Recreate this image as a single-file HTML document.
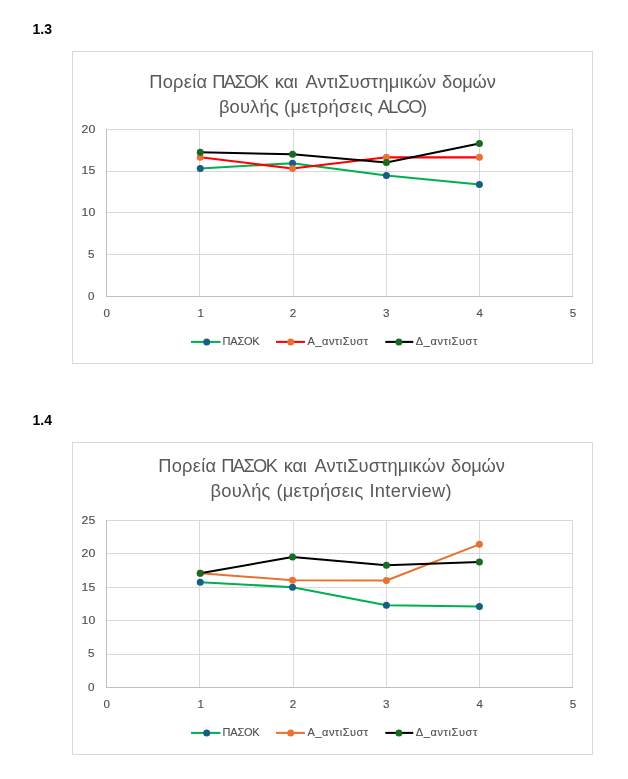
<!DOCTYPE html>
<html><head><meta charset="utf-8"><title>Charts</title>
<style>
html,body{margin:0;padding:0;background:#fff;width:628px;height:779px;overflow:hidden}
svg{display:block;will-change:transform}
text{font-family:"Liberation Sans",sans-serif}
.ax{font-size:11.6px;fill:#505050;stroke:#505050;stroke-width:0.15px}
.ti{font-size:18.3px;fill:#595959}
.lg{font-size:11px;fill:#505050;stroke:#505050;stroke-width:0.12px}
.hd{font-size:14px;font-weight:bold;fill:#000}
</style></head>
<body>
<svg width="628" height="779" viewBox="0 0 628 779">
<rect width="628" height="779" fill="#fff"/>
<text x="32.5" y="34" class="hd">1.3</text>
<text x="32.5" y="425" class="hd">1.4</text>
<rect x="72.5" y="51.5" width="520" height="312" fill="#fff" stroke="#d9d9d9" stroke-width="1"/>
<rect x="106" y="129" width="467" height="1" fill="#d9d9d9"/>
<rect x="106" y="171" width="467" height="1" fill="#d9d9d9"/>
<rect x="106" y="212" width="467" height="1" fill="#d9d9d9"/>
<rect x="106" y="254" width="467" height="1" fill="#d9d9d9"/>
<rect x="199" y="129" width="1" height="167" fill="#d9d9d9"/>
<rect x="293" y="129" width="1" height="167" fill="#d9d9d9"/>
<rect x="386" y="129" width="1" height="167" fill="#d9d9d9"/>
<rect x="479" y="129" width="1" height="167" fill="#d9d9d9"/>
<rect x="572" y="129" width="1" height="167" fill="#d9d9d9"/>
<rect x="106" y="129" width="1" height="168" fill="#bfbfbf"/>
<rect x="106" y="296" width="467" height="1" fill="#bfbfbf"/>
<text x="95.3" y="132.70" text-anchor="end" class="ax" textLength="13.7" lengthAdjust="spacingAndGlyphs">20</text>
<text x="95.3" y="174.45" text-anchor="end" class="ax" textLength="13.7" lengthAdjust="spacingAndGlyphs">15</text>
<text x="95.3" y="216.20" text-anchor="end" class="ax" textLength="13.7" lengthAdjust="spacingAndGlyphs">10</text>
<text x="94.5" y="257.95" text-anchor="end" class="ax">5</text>
<text x="94.5" y="299.70" text-anchor="end" class="ax">0</text>
<text x="106.8" y="317" text-anchor="middle" class="ax">0</text>
<text x="200.8" y="317" text-anchor="middle" class="ax">1</text>
<text x="293.0" y="317" text-anchor="middle" class="ax">2</text>
<text x="386.2" y="317" text-anchor="middle" class="ax">3</text>
<text x="479.7" y="317" text-anchor="middle" class="ax">4</text>
<text x="573.0" y="317" text-anchor="middle" class="ax">5</text>
<text x="149.20" y="88" class="ti" textLength="57.95" lengthAdjust="spacing">Πορεία</text>
<text x="212.30" y="88" class="ti" textLength="56.58" lengthAdjust="spacing">ΠΑΣΟΚ</text>
<text x="274.80" y="88" class="ti" textLength="22.94" lengthAdjust="spacing">και</text>
<text x="305.40" y="88" class="ti" textLength="130.77" lengthAdjust="spacing">ΑντιΣυστημικών</text>
<text x="442.10" y="88" class="ti" textLength="53.77" lengthAdjust="spacing">δομών</text>
<text x="218.90" y="113" class="ti" textLength="59.69" lengthAdjust="spacing">βουλής</text>
<text x="284.00" y="113" class="ti" textLength="88.69" lengthAdjust="spacing">(μετρήσεις</text>
<text x="377.80" y="113" class="ti" textLength="49.22" lengthAdjust="spacing">ALCO)</text>
<polyline points="200.25,168.4 292.5,163.2 386.4,175.4 479.4,184.6" fill="none" stroke="#00b050" stroke-width="2.05" stroke-linejoin="round" stroke-linecap="round"/>
<circle cx="200.25" cy="168.4" r="3.5" fill="#156082"/>
<circle cx="292.5" cy="163.2" r="3.5" fill="#156082"/>
<circle cx="386.4" cy="175.4" r="3.5" fill="#156082"/>
<circle cx="479.4" cy="184.6" r="3.5" fill="#156082"/>
<polyline points="200.25,157.2 292.5,168.6 386.4,157.15 479.4,157.35" fill="none" stroke="#ff0000" stroke-width="2.05" stroke-linejoin="round" stroke-linecap="round"/>
<circle cx="200.25" cy="157.2" r="3.5" fill="#e97132"/>
<circle cx="292.5" cy="168.6" r="3.5" fill="#e97132"/>
<circle cx="386.4" cy="157.15" r="3.5" fill="#e97132"/>
<circle cx="479.4" cy="157.35" r="3.5" fill="#e97132"/>
<polyline points="200.25,152.3 292.5,154.3 386.4,162.6 479.4,143.5" fill="none" stroke="#000000" stroke-width="2.05" stroke-linejoin="round" stroke-linecap="round"/>
<circle cx="200.25" cy="152.3" r="3.5" fill="#196b24"/>
<circle cx="292.5" cy="154.3" r="3.5" fill="#196b24"/>
<circle cx="386.4" cy="162.6" r="3.5" fill="#196b24"/>
<circle cx="479.4" cy="143.5" r="3.5" fill="#196b24"/>
<line x1="191" y1="341.9" x2="220.5" y2="341.9" stroke="#00b050" stroke-width="2.05"/>
<circle cx="206.7" cy="341.9" r="3.5" fill="#156082"/>
<text x="222.6" y="345" class="lg" textLength="37" lengthAdjust="spacing">ΠΑΣΟΚ</text>
<line x1="276" y1="341.9" x2="305" y2="341.9" stroke="#ff0000" stroke-width="2.05"/>
<circle cx="290.7" cy="341.9" r="3.5" fill="#e97132"/>
<text x="307.6" y="345" class="lg" textLength="60.5" lengthAdjust="spacing">Α_αντιΣυστ</text>
<line x1="385.3" y1="341.9" x2="413.3" y2="341.9" stroke="#000000" stroke-width="2.05"/>
<circle cx="398.9" cy="341.9" r="3.5" fill="#196b24"/>
<text x="415.8" y="345" class="lg" textLength="61.5" lengthAdjust="spacing">Δ_αντιΣυστ</text>
<rect x="72.5" y="442.5" width="520" height="312" fill="#fff" stroke="#d9d9d9" stroke-width="1"/>
<rect x="106" y="520" width="467" height="1" fill="#d9d9d9"/>
<rect x="106" y="553" width="467" height="1" fill="#d9d9d9"/>
<rect x="106" y="587" width="467" height="1" fill="#d9d9d9"/>
<rect x="106" y="620" width="467" height="1" fill="#d9d9d9"/>
<rect x="106" y="654" width="467" height="1" fill="#d9d9d9"/>
<rect x="199" y="520" width="1" height="167" fill="#d9d9d9"/>
<rect x="293" y="520" width="1" height="167" fill="#d9d9d9"/>
<rect x="386" y="520" width="1" height="167" fill="#d9d9d9"/>
<rect x="479" y="520" width="1" height="167" fill="#d9d9d9"/>
<rect x="572" y="520" width="1" height="167" fill="#d9d9d9"/>
<rect x="106" y="520" width="1" height="168" fill="#bfbfbf"/>
<rect x="106" y="687" width="467" height="1" fill="#bfbfbf"/>
<text x="95.3" y="523.70" text-anchor="end" class="ax" textLength="13.7" lengthAdjust="spacingAndGlyphs">25</text>
<text x="95.3" y="557.10" text-anchor="end" class="ax" textLength="13.7" lengthAdjust="spacingAndGlyphs">20</text>
<text x="95.3" y="590.50" text-anchor="end" class="ax" textLength="13.7" lengthAdjust="spacingAndGlyphs">15</text>
<text x="95.3" y="623.90" text-anchor="end" class="ax" textLength="13.7" lengthAdjust="spacingAndGlyphs">10</text>
<text x="94.5" y="657.30" text-anchor="end" class="ax">5</text>
<text x="94.5" y="690.70" text-anchor="end" class="ax">0</text>
<text x="106.8" y="708" text-anchor="middle" class="ax">0</text>
<text x="200.8" y="708" text-anchor="middle" class="ax">1</text>
<text x="293.0" y="708" text-anchor="middle" class="ax">2</text>
<text x="386.2" y="708" text-anchor="middle" class="ax">3</text>
<text x="479.7" y="708" text-anchor="middle" class="ax">4</text>
<text x="573.0" y="708" text-anchor="middle" class="ax">5</text>
<text x="158.20" y="472" class="ti" textLength="57.95" lengthAdjust="spacing">Πορεία</text>
<text x="221.30" y="472" class="ti" textLength="56.58" lengthAdjust="spacing">ΠΑΣΟΚ</text>
<text x="283.80" y="472" class="ti" textLength="22.94" lengthAdjust="spacing">και</text>
<text x="314.40" y="472" class="ti" textLength="130.77" lengthAdjust="spacing">ΑντιΣυστημικών</text>
<text x="451.10" y="472" class="ti" textLength="53.77" lengthAdjust="spacing">δομών</text>
<text x="210.60" y="497" class="ti" textLength="59.69" lengthAdjust="spacing">βουλής</text>
<text x="276.50" y="497" class="ti" textLength="86.69" lengthAdjust="spacing">(μετρήσεις</text>
<text x="369.40" y="497" class="ti" textLength="82.22" lengthAdjust="spacing">Interview)</text>
<polyline points="200.25,582.2 292.5,587.2 386.4,605.2 479.4,606.4" fill="none" stroke="#00b050" stroke-width="2.05" stroke-linejoin="round" stroke-linecap="round"/>
<circle cx="200.25" cy="582.2" r="3.5" fill="#156082"/>
<circle cx="292.5" cy="587.2" r="3.5" fill="#156082"/>
<circle cx="386.4" cy="605.2" r="3.5" fill="#156082"/>
<circle cx="479.4" cy="606.4" r="3.5" fill="#156082"/>
<polyline points="200.25,573.2 292.5,580.3 386.4,580.5 479.4,544.35" fill="none" stroke="#e97132" stroke-width="2.05" stroke-linejoin="round" stroke-linecap="round"/>
<circle cx="200.25" cy="573.2" r="3.5" fill="#e97132"/>
<circle cx="292.5" cy="580.3" r="3.5" fill="#e97132"/>
<circle cx="386.4" cy="580.5" r="3.5" fill="#e97132"/>
<circle cx="479.4" cy="544.35" r="3.5" fill="#e97132"/>
<polyline points="200.25,573.2 292.5,557.1 386.4,565.2 479.4,562.1" fill="none" stroke="#000000" stroke-width="2.05" stroke-linejoin="round" stroke-linecap="round"/>
<circle cx="200.25" cy="573.2" r="3.5" fill="#196b24"/>
<circle cx="292.5" cy="557.1" r="3.5" fill="#196b24"/>
<circle cx="386.4" cy="565.2" r="3.5" fill="#196b24"/>
<circle cx="479.4" cy="562.1" r="3.5" fill="#196b24"/>
<line x1="191" y1="732.9" x2="220.5" y2="732.9" stroke="#00b050" stroke-width="2.05"/>
<circle cx="206.7" cy="732.9" r="3.5" fill="#156082"/>
<text x="222.6" y="736" class="lg" textLength="37" lengthAdjust="spacing">ΠΑΣΟΚ</text>
<line x1="276" y1="732.9" x2="305" y2="732.9" stroke="#e97132" stroke-width="2.05"/>
<circle cx="290.7" cy="732.9" r="3.5" fill="#e97132"/>
<text x="307.6" y="736" class="lg" textLength="60.5" lengthAdjust="spacing">Α_αντιΣυστ</text>
<line x1="385.3" y1="732.9" x2="413.3" y2="732.9" stroke="#000000" stroke-width="2.05"/>
<circle cx="398.9" cy="732.9" r="3.5" fill="#196b24"/>
<text x="415.8" y="736" class="lg" textLength="61.5" lengthAdjust="spacing">Δ_αντιΣυστ</text>
</svg>
</body></html>
